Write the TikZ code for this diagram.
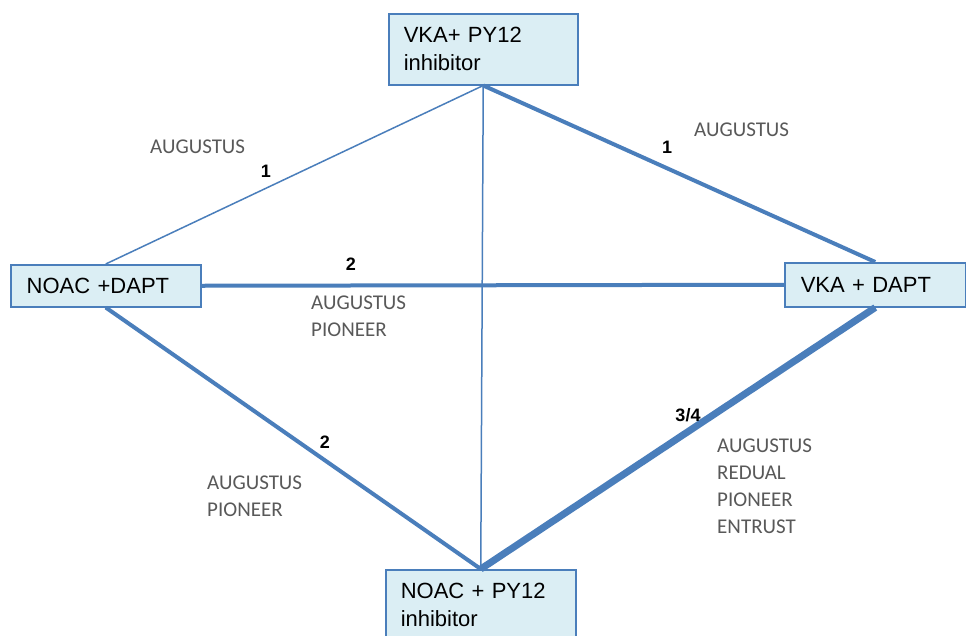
\documentclass[tikz,border=0pt]{standalone}
\usepackage{fontspec}
\setmainfont{Liberation Sans}
\newfontfamily\studyfont{Carlito}
\definecolor{linkblue}{HTML}{4A7EBB}
\definecolor{boxfill}{HTML}{DBEEF4}
\definecolor{studygray}{HTML}{595959}

\begin{document}
\begin{tikzpicture}[x=1pt,y=-1pt,font=\fontsize{22}{28}\selectfont,
  box/.style={draw=linkblue,line width=1.5pt,fill=boxfill,anchor=north west,align=left,inner xsep=15pt,inner ysep=0pt},
  link/.style={draw=linkblue,line width=#1},
  study/.style={anchor=base west,align=left,inner sep=0pt,text=studygray,font=\studyfont\fontsize{21}{26.7}\selectfont},
  count/.style={anchor=base,inner sep=0pt,font=\bfseries\fontsize{18}{20}\selectfont}]
\useasboundingbox (0,0) rectangle (966,635);
\fill[white] (0,0) rectangle (966,635);

% treatment arms
\node[box,text width=159pt,minimum height=71pt] (vkapy) at (388,13) {VKA+ PY12\\inhibitor};
\node[box,text width=158pt,minimum height=42pt,inner xsep=16pt] (noacdapt) at (10,264) {NOAC +DAPT};
\node[box,text width=149pt,minimum height=44pt,inner xsep=16pt] (vkadapt) at (784,262) {VKA + DAPT};
\node[box,text width=160pt,minimum height=71pt] (noacpy) at (385,569) {NOAC + PY12\\inhibitor};

% comparisons
\draw[link=1.5pt] (vkapy.south) -- (noacdapt.north);
\draw[link=1.5pt] (vkapy.south) -- (noacpy.north);
\draw[link=4pt] (vkapy.south) -- (vkadapt.north);
\draw[link=4pt] (noacdapt.east) -- (vkadapt.west);
\draw[link=4pt] (noacdapt.south) -- (noacpy.north);
\draw[link=7pt] (vkadapt.south) -- (noacpy.north);

% trials (base = last line)
\node[study] (s1) at (150,153) {AUGUSTUS};
\node[count] (n1) at (266,177) {1};
\node[study] (s2) at (694,136) {AUGUSTUS};
\node[count] (n2) at (667,153) {1};
\node[count] (n3) at (351,270) {2};
\node[study] (s3) at (311,336) {AUGUSTUS\\PIONEER};
\node[count] (n4) at (325,448) {2};
\node[study] (s4) at (207,516) {AUGUSTUS\\PIONEER};
\node[count] (n5) at (688,421) {3/4};
\node[study] (s5) at (717,533) {AUGUSTUS\\REDUAL\\PIONEER\\ENTRUST};
\end{tikzpicture}
\end{document}
